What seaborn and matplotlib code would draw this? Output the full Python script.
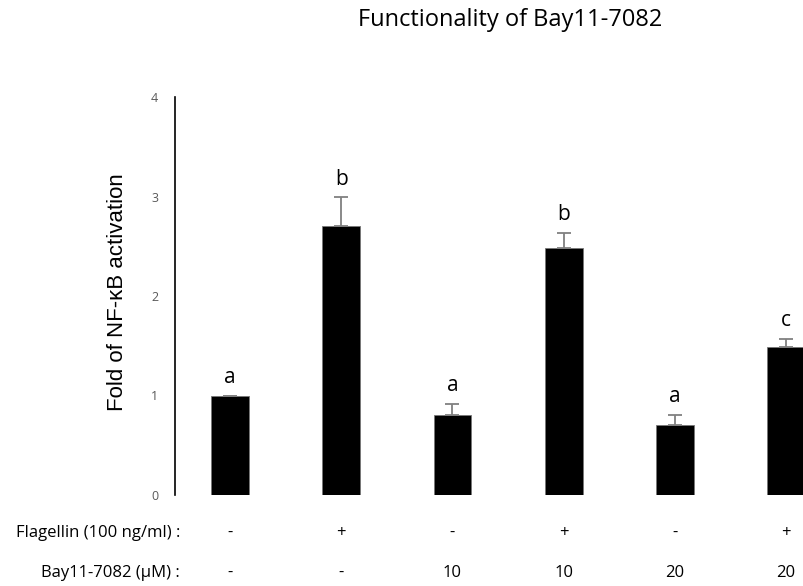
import matplotlib
matplotlib.use("Agg")
import matplotlib.pyplot as plt
import matplotlib.transforms as mtransforms
import seaborn as sns
import pandas as pd

conditions = ["C1", "C2", "C3", "C4", "C5", "C6"]
values = [1.00, 2.70, 0.80, 2.48, 0.70, 1.49]
errors = [0.00, 0.29, 0.11, 0.15, 0.10, 0.08]
letters = ["a", "b", "a", "b", "a", "c"]
flagellin = ["-", "+", "-", "+", "-", "+"]
bay = ["-", "-", "10", "10", "20", "20"]
yticks = [0, 1, 2, 3, 4]

sns.set_theme(style="white")
plt.rcParams['font.family'] = ['Open Sans', 'DejaVu Sans']
plt.rcParams['text.color'] = 'black'

df = pd.DataFrame({"cond": conditions, "val": values})

fig = plt.figure(figsize=(8.04, 5.86), dpi=100)
ax = fig.add_axes([175/804, 91/586, 629/804, 398/586])

sns.barplot(data=df, x="cond", y="val", color="black", width=0.34,
            saturation=1, ax=ax, errorbar=None, edgecolor="#777777", linewidth=0.6)
ax.errorbar(range(len(values)), values, yerr=[[0]*len(errors), errors], fmt="none",
            ecolor="#808080", elinewidth=1.3, capsize=5, capthick=1.3)

for i, (v, e, l) in enumerate(zip(values, errors, letters)):
    ax.text(i, v + e + 0.08, l, ha="center", va="bottom", fontsize=15, color="black")

ax.set_xlim(-0.495, 5.162)
ax.set_ylim(0, 4)
ax.set_yticks(yticks)
ax.set_yticklabels([str(t) for t in yticks], fontsize=9, color="#595959")
ax.tick_params(axis="y", length=0, pad=12)
ax.set_xticks([])
ax.set_xlabel("")
ax.set_ylabel("")
for s in ["top", "right", "bottom"]:
    ax.spines[s].set_visible(False)
ax.spines["left"].set_color("black")
ax.spines["left"].set_linewidth(1.2)

fig.text(118/804, 1 - 292/586, "Fold of NF-κB activation", rotation=90,
         ha="center", va="center", fontsize=16, color="black",
         family=['Liberation Sans', 'DejaVu Sans'])
fig.text(510/804, 1 - 20/586, "Functionality of Bay11-7082", ha="center", va="center",
         fontsize=17, color="black")

trans = mtransforms.blended_transform_factory(ax.transData, fig.transFigure)
fig.text(180/804, 1 - 533/586, "Flagellin (100 ng/ml) :", ha="right", va="center",
         fontsize=12, color="black")
fig.text(180/804, 1 - 573/586, "Bay11-7082 (μM) :", ha="right", va="center",
         fontsize=12, color="black")
for i, (f, b) in enumerate(zip(flagellin, bay)):
    ax.text(i, 1 - 533/586, f, transform=trans, ha="center", va="center", fontsize=12, color="black")
    ax.text(i, 1 - 573/586, b, transform=trans, ha="center", va="center", fontsize=12, color="black")

fig.savefig("out.png", dpi=100)
